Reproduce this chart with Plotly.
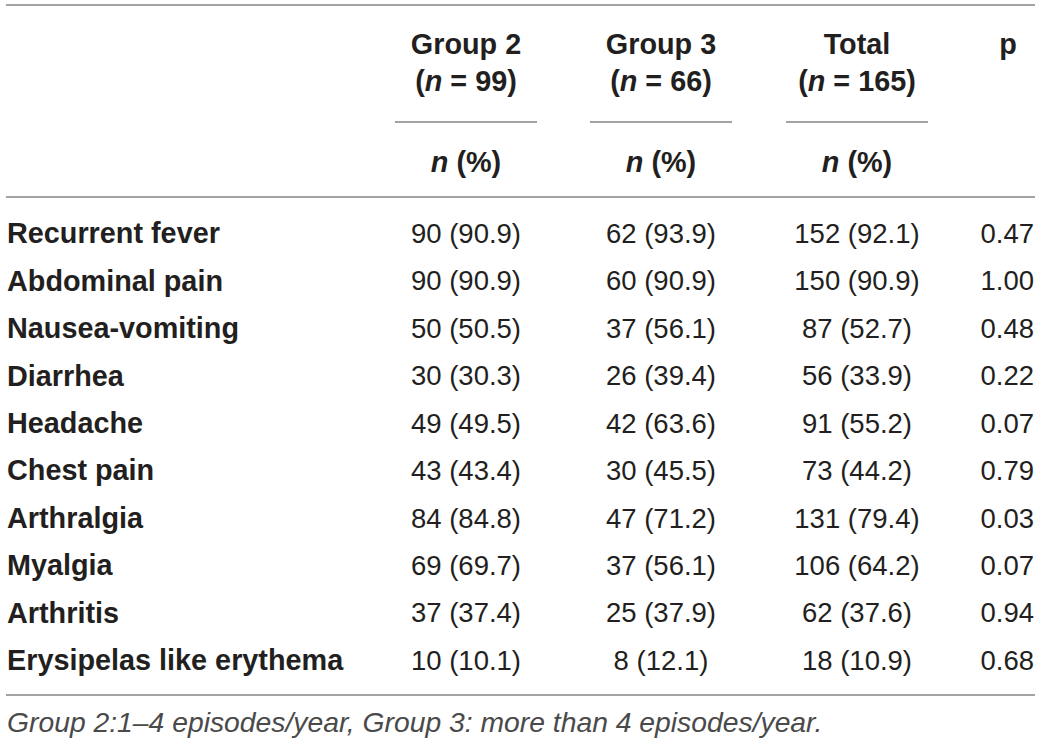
import plotly.graph_objects as go

# ---------------- data ----------------
symptoms = ["Recurrent fever", "Abdominal pain", "Nausea-vomiting", "Diarrhea",
            "Headache", "Chest pain", "Arthralgia", "Myalgia", "Arthritis",
            "Erysipelas like erythema"]
g2_n = [90, 90, 50, 30, 49, 43, 84, 69, 37, 10]
g2_pct = [90.9, 90.9, 50.5, 30.3, 49.5, 43.4, 84.8, 69.7, 37.4, 10.1]
g3_n = [62, 60, 37, 26, 42, 30, 47, 37, 25, 8]
g3_pct = [93.9, 90.9, 56.1, 39.4, 63.6, 45.5, 71.2, 56.1, 37.9, 12.1]
tot_n = [152, 150, 87, 56, 91, 73, 131, 106, 62, 18]
tot_pct = [92.1, 90.9, 52.7, 33.9, 55.2, 44.2, 79.4, 64.2, 37.6, 10.9]
p_values = [0.47, 1.00, 0.48, 0.22, 0.07, 0.79, 0.03, 0.07, 0.94, 0.68]
groups = ["Group 2", "Group 3", "Total"]
group_sizes = [99, 66, 165]
sub_header = "<i>n</i> (%)"
p_header = "p"
footnote = "Group 2:1\u20134 episodes/year, Group 3: more than 4 episodes/year."

# ---------------- layout constants ----------------
W, H = 1040, 743
FONT = "Liberation Sans"
TXT = "#231f20"
LINE = "#a3a3a3"
LABEL_X = 7
COL_X = [466, 661, 857]
P_RIGHT = 1034
P_HEAD_X = 1008
ROW_Y0 = 236
ROW_STEP = 47.44
HEAD1_Y, HEAD2_Y, SUB_Y = 47, 84, 165
FS_B, FS_R = 28.8, 27.5

row_y = [ROW_Y0 + i * ROW_STEP for i in range(len(symptoms))]

fig = go.Figure()

# row labels
fig.add_trace(go.Scatter(
    x=[LABEL_X] * len(symptoms), y=row_y, mode="text",
    text=[f"<b>{s}</b>" for s in symptoms], textposition="middle right",
    textfont=dict(family=FONT, size=FS_B, color=TXT), hoverinfo="skip"))

# value columns
cols = [(g2_n, g2_pct), (g3_n, g3_pct), (tot_n, tot_pct)]
for cx, (ns, ps) in zip(COL_X, cols):
    fig.add_trace(go.Scatter(
        x=[cx] * len(ns), y=row_y, mode="text",
        text=[f"{n} ({p:.1f})" for n, p in zip(ns, ps)],
        textposition="middle center",
        textfont=dict(family=FONT, size=FS_R, color=TXT), hoverinfo="skip"))

# p column
fig.add_trace(go.Scatter(
    x=[P_RIGHT] * len(p_values), y=row_y, mode="text",
    text=[f"{p:.2f}" for p in p_values], textposition="middle left",
    textfont=dict(family=FONT, size=FS_R, color=TXT), hoverinfo="skip"))

# headers
fig.add_trace(go.Scatter(
    x=COL_X + [P_HEAD_X], y=[HEAD1_Y] * 4, mode="text",
    text=[f"<b>{g}</b>" for g in groups] + [f"<b>{p_header}</b>"],
    textposition="middle center",
    textfont=dict(family=FONT, size=FS_B, color=TXT), hoverinfo="skip"))
fig.add_trace(go.Scatter(
    x=COL_X, y=[HEAD2_Y] * 3, mode="text",
    text=[f"<b>(<i>n</i> = {n})</b>" for n in group_sizes],
    textposition="middle center",
    textfont=dict(family=FONT, size=FS_B, color=TXT), hoverinfo="skip"))
fig.add_trace(go.Scatter(
    x=COL_X, y=[SUB_Y] * 3, mode="text",
    text=[f"<b>{sub_header}</b>"] * 3,
    textposition="middle center",
    textfont=dict(family=FONT, size=FS_B, color=TXT), hoverinfo="skip"))

# footnote
fig.add_trace(go.Scatter(
    x=[LABEL_X], y=[725], mode="text",
    text=[f"<i>{footnote}</i>"], textposition="middle right",
    textfont=dict(family=FONT, size=28.3, color="#4a4a4a"), hoverinfo="skip"))

# rules
shapes = []
for y in (5, 197, 695):
    shapes.append(dict(type="line", xref="x", yref="y", x0=6, x1=1035, y0=y, y1=y,
                       line=dict(color=LINE, width=2)))
for cx in COL_X:
    shapes.append(dict(type="line", xref="x", yref="y", x0=cx - 71, x1=cx + 71,
                       y0=122, y1=122, line=dict(color=LINE, width=2)))

fig.update_layout(
    width=W, height=H, margin=dict(l=0, r=0, t=0, b=0),
    paper_bgcolor="white", plot_bgcolor="white", showlegend=False,
    xaxis=dict(range=[0, W], visible=False, fixedrange=True),
    yaxis=dict(range=[H, 0], visible=False, fixedrange=True),
    shapes=shapes,
)

fig.write_html(
    "out.html",
    config={"displayModeBar": False},
    post_script="document.body.style.margin='0';document.body.style.overflow='hidden';",
)
